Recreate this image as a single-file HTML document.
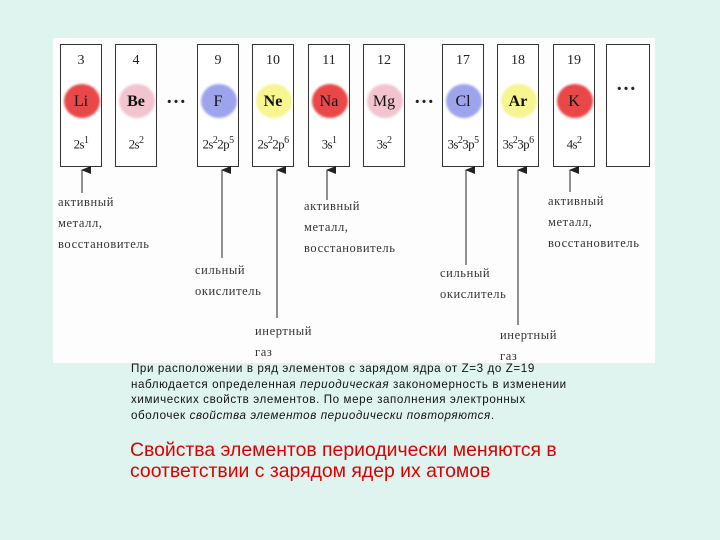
<!DOCTYPE html>
<html><head><meta charset="utf-8"><style>
body{margin:0;width:720px;height:540px;background:#dff3ef;position:relative;overflow:hidden;font-family:"Liberation Serif",serif}
.w{position:absolute;left:53px;top:38px;width:602px;height:325px;background:#fdfdfd}
.b{position:absolute;top:44px;width:42px;height:123px;border:1px solid #333;background:#fff;box-sizing:border-box}
.n{position:absolute;top:8px;width:100%;text-align:center;font-size:14px;color:#222}
.c{position:absolute;left:3px;top:39px;width:36px;height:34px;border-radius:50%;filter:blur(1px)}
.s{position:absolute;top:48px;width:100%;text-align:center;font-size:16px;color:#111}
.e{position:absolute;top:90px;width:100%;text-align:center;font-size:13px;color:#222;white-space:nowrap;letter-spacing:-0.6px}
.e sup{font-size:10px}
.d{position:absolute;font-size:20px;font-weight:bold;color:#222}
.l{position:absolute;font-size:12.5px;color:#333;line-height:21px;white-space:nowrap;letter-spacing:0.6px}
.t{position:absolute;left:131px;font-family:"Liberation Sans",sans-serif;color:#111;font-size:11.6px;line-height:15.5px;letter-spacing:0.6px;white-space:nowrap}
.r{position:absolute;left:130px;top:440px;font-family:"Liberation Sans",sans-serif;color:#d00;font-size:19.4px;line-height:21px;white-space:nowrap}
</style></head><body>
<div class="w"></div>
<div class="b" style="left:60px"><div class="n">3</div><div class="c" style="background:#e84848"></div><div class="s">Li</div><div class="e">2s<sup>1</sup></div></div>
<div class="b" style="left:115px"><div class="n">4</div><div class="c" style="background:#f2c4d0"></div><div class="s" style="font-weight:bold">Be</div><div class="e">2s<sup>2</sup></div></div>
<div class="d" style="left:166px;top:86px">…</div>
<div class="b" style="left:197px"><div class="n">9</div><div class="c" style="background:#9ea4ec"></div><div class="s">F</div><div class="e">2s<sup>2</sup>2p<sup>5</sup></div></div>
<div class="b" style="left:252px"><div class="n">10</div><div class="c" style="background:#f6f590"></div><div class="s" style="font-weight:bold">Ne</div><div class="e">2s<sup>2</sup>2p<sup>6</sup></div></div>
<div class="b" style="left:308px"><div class="n">11</div><div class="c" style="background:#e84848"></div><div class="s">Na</div><div class="e">3s<sup>1</sup></div></div>
<div class="b" style="left:363px"><div class="n">12</div><div class="c" style="background:#f2c4d0"></div><div class="s">Mg</div><div class="e">3s<sup>2</sup></div></div>
<div class="d" style="left:414px;top:86px">…</div>
<div class="b" style="left:442px"><div class="n">17</div><div class="c" style="background:#9ea4ec"></div><div class="s">Cl</div><div class="e">3s<sup>2</sup>3p<sup>5</sup></div></div>
<div class="b" style="left:497px"><div class="n">18</div><div class="c" style="background:#f6f590"></div><div class="s" style="font-weight:bold">Ar</div><div class="e">3s<sup>2</sup>3p<sup>6</sup></div></div>
<div class="b" style="left:553px"><div class="n">19</div><div class="c" style="background:#e84848"></div><div class="s">K</div><div class="e">4s<sup>2</sup></div></div>
<div class="b" style="left:606px;width:44px"><div class="d" style="left:9px;top:28px">…</div></div>
<svg width="720" height="540" style="position:absolute;left:0;top:0">
<defs><marker id="a" markerWidth="8" markerHeight="10" refX="4" refY="1" orient="auto-start-reverse" markerUnits="userSpaceOnUse"><path d="M0,10 L4,0 L8,10 Z" fill="#222"/></marker></defs>
<g stroke="#555" stroke-width="1.3">
<line x1="82" y1="193" x2="82" y2="170" marker-end="url(#a)"/>
<line x1="222" y1="258" x2="222" y2="170" marker-end="url(#a)"/>
<line x1="277" y1="318" x2="277" y2="170" marker-end="url(#a)"/>
<line x1="327" y1="200" x2="327" y2="170" marker-end="url(#a)"/>
<line x1="466" y1="265" x2="466" y2="170" marker-end="url(#a)"/>
<line x1="518" y1="325" x2="518" y2="170" marker-end="url(#a)"/>
<line x1="570" y1="192" x2="570" y2="170" marker-end="url(#a)"/>
</g></svg>
<div class="l" style="left:58px;top:192px">активный<br>металл,<br>восстановитель</div>
<div class="l" style="left:195px;top:260px">сильный<br>окислитель</div>
<div class="l" style="left:255px;top:321px">инертный<br>газ</div>
<div class="l" style="left:304px;top:196px">активный<br>металл,<br>восстановитель</div>
<div class="l" style="left:440px;top:263px">сильный<br>окислитель</div>
<div class="l" style="left:500px;top:325px">инертный<br>газ</div>
<div class="l" style="left:548px;top:191px">активный<br>металл,<br>восстановитель</div>
<div class="t" style="top:361px">При расположении в ряд элементов с зарядом ядра от Z=3 до Z=19<br>наблюдается определенная <i>периодическая</i> закономерность в изменении<br>химических свойств элементов. По мере заполнения электронных<br>оболочек <i>свойства элементов периодически повторяются</i>.</div>
<div class="r">Свойства элементов периодически меняются в<br>соответствии с зарядом ядер их атомов</div>
</body></html>
